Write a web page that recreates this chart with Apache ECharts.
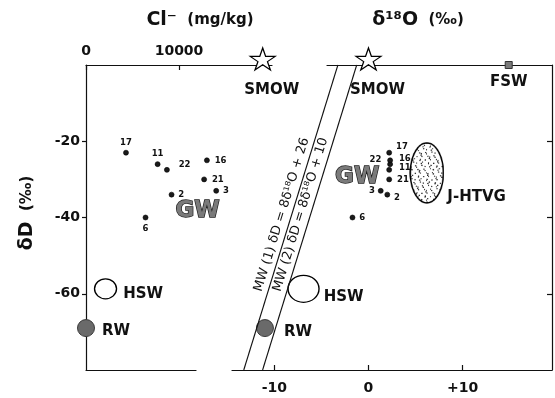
<!DOCTYPE html>
<html>
<head>
<meta charset="utf-8">
<script src="https://cdn.jsdelivr.net/npm/echarts@6/dist/echarts.min.js"></script>
<style>
  html, body { margin: 0; padding: 0; background: #fff; }
  #chart { width: 555px; height: 398px; }
</style>
</head>
<body>
<div id="chart"></div>
<script>
// Groundwater samples: id, chloride (mg/kg), δD (‰), δ18O (‰)
const sampleIds = ['17', '11', '22', '16', '21', '3', '2', '6'];
const chloride  = [4300, 7700, 8700, 13000, 12700, 14000, 9200, 6400];
const deltaD    = [-23, -26, -27.5, -25, -30, -33, -34, -40];
const delta18O  = [2.2, 2.3, 2.2, 2.3, 2.2, 1.3, 2.0, -1.7];

// End members: sea water (SMOW), hot spring water (HSW), river water (RW)
const endNames    = ['SMOW', 'HSW', 'RW'];
const endChloride = [19000, 2100, 0];
const endDelta18O = [0, -6.9, -11];
const endDeltaD   = [0, -58.7, -69];

// Fossil sea water and the J-HTVG field (δ18O, δD)
const fswPoint   = [14.9, 0];
const jhtvgPoint = [6.2, -28.3];

// Meteoric water lines, end points at δD = -80 and δD = 0
const mw1Ends = [[-13.25, -80], [-3.25, 0]];   // δD = 8δ18O + 26
const mw2Ends = [[-11.25, -80], [-1.25, 0]];   // δD = 8δ18O + 10

// Axis ticks
const clTicks = [0, 10000];
const oTicks  = [-10, 0, 10];
const dTicks  = [-20, -40, -60];

const FONT = 'DejaVu Sans';
const INK = '#111';
const starPath = 'path://M50,0 L61.8,35.4 L100,35.4 L69.1,57.3 L80.9,92.7 L50,70.8 L19.1,92.7 L30.9,57.3 L0,35.4 L38.2,35.4 Z';

// stippled ellipse image used as the J-HTVG symbol
function stippledEllipse(w, h) {
  const s = 3;
  const cv = document.createElement('canvas');
  cv.width = w * s; cv.height = h * s;
  const c = cv.getContext('2d');
  const cx = cv.width / 2, cy = cv.height / 2;
  const rx = cv.width / 2 - 3, ry = cv.height / 2 - 3;
  c.beginPath();
  c.ellipse(cx, cy, rx, ry, 0, 0, Math.PI * 2);
  c.fillStyle = '#fff';
  c.fill();
  c.save();
  c.clip();
  c.fillStyle = '#1a1a1a';
  const jitter = [0, 4, -2, 5, -4, 1, 3, -4, 4, -1, 2, -5, 1];
  const step = 10;
  let k = 0;
  for (let y = 3, row = 0; y < cv.height; y += step, row++) {
    for (let x = (row % 2) * step / 2 + 2; x < cv.width; x += step) {
      const dx = jitter[k % jitter.length];
      const dy = jitter[(k + 5) % jitter.length] * 0.6;
      k++;
      c.beginPath();
      c.arc(x + dx, y + dy, 2.0, 0, Math.PI * 2);
      c.fill();
    }
  }
  c.restore();
  c.beginPath();
  c.ellipse(cx, cy, rx, ry, 0, 0, Math.PI * 2);
  c.lineWidth = 4.5;
  c.strokeStyle = '#000';
  c.stroke();
  return 'image://' + cv.toDataURL();
}

const axisLine = { show: true, onZero: false, lineStyle: { color: INK, width: 1.2 } };
const tickLine = { color: INK, width: 1.2 };
const tickFont = { color: INK, fontFamily: FONT, fontWeight: 'bold', fontSize: 14 };
const bare = { show: false };

// label placement of sample ids in each panel
const leftIdLabel = {
  '17': { position: 'top', distance: 3 },
  '11': { position: 'top', distance: 3 },
  '22': { position: 'right', distance: 9, offset: [0, -5] },
  '16': { position: 'right', distance: 5 },
  '21': { position: 'right', distance: 5 },
  '3':  { position: 'right', distance: 4 },
  '2':  { position: 'right', distance: 4 },
  '6':  { position: 'bottom', distance: 4 }
};
const rightIdLabel = {
  '17': { position: 'right', distance: 4, offset: [0, -6] },
  '16': { position: 'right', distance: 6, offset: [0, -2] },
  '11': { position: 'right', distance: 6, offset: [0, 4] },
  '22': { position: 'left', distance: 5, offset: [0, -10] },
  '21': { position: 'right', distance: 5 },
  '3':  { position: 'left', distance: 3 },
  '2':  { position: 'right', distance: 4, offset: [0, 3] },
  '6':  { position: 'right', distance: 4 }
};

const idLabelStyle = { show: true, color: INK, fontFamily: FONT, fontWeight: 'bold', fontSize: 8.5 };
const bigLabel = { show: true, color: INK, fontFamily: FONT, fontWeight: 'bold', fontSize: 15 };

function samplePoints(xs, placement) {
  return sampleIds.map(function (id, i) {
    return {
      value: [xs[i], deltaD[i]],
      label: Object.assign({}, idLabelStyle, placement[id], { formatter: id })
    };
  });
}

// end-member symbols per panel
const endLook = {
  left: {
    SMOW: { symbol: starPath, symbolSize: [25, 22], symbolOffset: [0, -6],
            itemStyle: { color: '#fff', borderColor: '#000', borderWidth: 1.2, opacity: 1 },
            label: { position: 'bottom', distance: 12, offset: [9, 0] } },
    HSW:  { symbol: 'circle', symbolSize: [22, 20],
            itemStyle: { color: '#fff', borderColor: '#000', borderWidth: 1.3, opacity: 1 },
            label: { position: 'right', distance: 6, offset: [0, 5] } },
    RW:   { symbol: 'circle', symbolSize: 17,
            itemStyle: { color: '#6a6a6a', borderColor: '#3a3a3a', borderWidth: 1, opacity: 1 },
            label: { position: 'right', distance: 7, offset: [0, 3] } }
  },
  right: {
    SMOW: { symbol: starPath, symbolSize: [25, 22], symbolOffset: [0, -6],
            itemStyle: { color: '#fff', borderColor: '#000', borderWidth: 1.2, opacity: 1 },
            label: { position: 'bottom', distance: 12, offset: [9, 0] } },
    HSW:  { symbol: 'circle', symbolSize: [31, 27],
            itemStyle: { color: '#fff', borderColor: '#000', borderWidth: 1.3, opacity: 1 },
            label: { position: 'right', distance: 4, offset: [0, 8] } },
    RW:   { symbol: 'circle', symbolSize: 17,
            itemStyle: { color: '#6a6a6a', borderColor: '#3a3a3a', borderWidth: 1, opacity: 1 },
            label: { position: 'right', distance: 10, offset: [0, 4] } }
  }
};

function endPoints(xs, side) {
  return endNames.map(function (name, i) {
    const look = endLook[side][name];
    return {
      value: [xs[i], endDeltaD[i]],
      symbol: look.symbol,
      symbolSize: look.symbolSize,
      symbolOffset: look.symbolOffset || [0, 0],
      itemStyle: look.itemStyle,
      label: Object.assign({}, bigLabel, look.label, { formatter: name })
    };
  });
}

const gwLabel = {
  show: true, position: 'inside', formatter: 'GW',
  fontFamily: FONT, fontWeight: 'bold', fontSize: 23,
  color: '#7a7a7a', textBorderColor: '#1a1a1a', textBorderWidth: 1.4
};

const mwLabel = {
  show: true, position: 'insideMiddleTop', distance: 3,
  color: INK, fontFamily: FONT, fontSize: 13
};

const dotStyle = { color: '#1a1a1a', borderColor: '#000', borderWidth: 0.6, opacity: 1 };

const option = {
  animation: false,
  backgroundColor: '#fff',
  grid: [
    { left: 86, top: 65, width: 186, height: 305, outerBoundsMode: 'none' },
    { left: 232, top: 65, width: 320, height: 305, outerBoundsMode: 'none' },
    { left: 327, top: 65, width: 225, height: 305, outerBoundsMode: 'none' },
    { left: 86, top: 65, width: 110, height: 305, outerBoundsMode: 'none' }
  ],
  xAxis: [
    { gridIndex: 0, type: 'value', position: 'top', min: 0, max: 20000,
      axisLine: axisLine, splitLine: bare,
      axisTick: { show: true, inside: true, length: 5, customValues: clTicks, lineStyle: tickLine },
      axisLabel: Object.assign({ customValues: clTicks, margin: 7,
        formatter: function (v) { return v === 20000 ? '' : String(v); } }, tickFont) },
    { gridIndex: 1, type: 'value', position: 'bottom', min: -14.5, max: 19.5,
      axisLine: axisLine, splitLine: bare,
      axisTick: { show: true, inside: true, length: 5, customValues: oTicks, lineStyle: tickLine },
      axisLabel: Object.assign({ customValues: oTicks, margin: 11,
        formatter: function (v) { return v > 0 ? '+' + v : String(v); } }, tickFont) },
    { gridIndex: 2, type: 'value', position: 'top', min: 0, max: 1,
      axisLine: axisLine, axisTick: bare, axisLabel: bare, splitLine: bare },
    { gridIndex: 3, type: 'value', position: 'bottom', min: 0, max: 1,
      axisLine: axisLine, axisTick: bare, axisLabel: bare, splitLine: bare }
  ],
  yAxis: [
    { gridIndex: 0, type: 'value', position: 'left', min: -80, max: 0,
      axisLine: axisLine, splitLine: bare,
      axisTick: { show: true, inside: false, length: 4, customValues: dTicks, lineStyle: tickLine },
      axisLabel: Object.assign({ customValues: dTicks, margin: 6,
        formatter: function (v) { return (v === 0 || v === -80) ? '' : String(v); } }, tickFont) },
    { gridIndex: 1, type: 'value', position: 'right', min: -80, max: 0,
      axisLine: axisLine, splitLine: bare,
      axisTick: { show: true, inside: true, length: 5, customValues: dTicks, lineStyle: tickLine },
      axisLabel: bare },
    { gridIndex: 2, type: 'value', min: -80, max: 0, show: false },
    { gridIndex: 3, type: 'value', min: -80, max: 0, show: false }
  ],
  series: [
    // meteoric water lines
    { type: 'scatter', xAxisIndex: 1, yAxisIndex: 1, data: [], silent: true,
      markLine: {
        silent: true, symbol: ['none', 'none'], animation: false,
        lineStyle: { color: INK, width: 1.1, type: 'solid', opacity: 1 },
        data: [
          [ { coord: mw1Ends[0], label: Object.assign({}, mwLabel, { formatter: 'MW (1) δD = 8δ¹⁸O + 26' }) },
            { coord: mw1Ends[1] } ],
          [ { coord: mw2Ends[0], label: Object.assign({}, mwLabel, { formatter: 'MW (2) δD = 8δ¹⁸O + 10' }) },
            { coord: mw2Ends[1] } ]
        ]
      } },
    // left panel: Cl vs δD
    { type: 'scatter', xAxisIndex: 0, yAxisIndex: 0, clip: false, z: 3,
      data: endPoints(endChloride, 'left') },
    { type: 'scatter', xAxisIndex: 0, yAxisIndex: 0, clip: false, z: 4,
      symbol: 'circle', symbolSize: 5, itemStyle: dotStyle,
      data: samplePoints(chloride, leftIdLabel) },
    { type: 'scatter', xAxisIndex: 0, yAxisIndex: 0, symbolSize: 1,
      itemStyle: { color: 'rgba(0,0,0,0)', opacity: 1 }, label: gwLabel,
      data: [[12000, -38.3]] },
    // right panel: δ18O vs δD
    { type: 'scatter', xAxisIndex: 1, yAxisIndex: 1, clip: false, z: 2,
      symbol: stippledEllipse(35, 62), symbolSize: [35, 62],
      itemStyle: { opacity: 1 },
      label: Object.assign({}, bigLabel, { position: 'right', distance: 3, offset: [0, 24], formatter: 'J-HTVG' }),
      data: [jhtvgPoint] },
    { type: 'scatter', xAxisIndex: 1, yAxisIndex: 1, clip: false, z: 3,
      data: endPoints(endDelta18O, 'right') },
    { type: 'scatter', xAxisIndex: 1, yAxisIndex: 1, clip: false, z: 3,
      symbol: 'rect', symbolSize: 7,
      itemStyle: { color: '#7a7a7a', borderColor: '#333', borderWidth: 1, opacity: 1 },
      label: Object.assign({}, bigLabel, { position: 'bottom', distance: 6, formatter: 'FSW' }),
      data: [fswPoint] },
    { type: 'scatter', xAxisIndex: 1, yAxisIndex: 1, clip: false, z: 4,
      symbol: 'circle', symbolSize: 5, itemStyle: dotStyle,
      data: samplePoints(delta18O, rightIdLabel) },
    { type: 'scatter', xAxisIndex: 1, yAxisIndex: 1, symbolSize: 1,
      itemStyle: { color: 'rgba(0,0,0,0)', opacity: 1 }, label: gwLabel,
      data: [[-1.2, -29.4]] }
  ],
  graphic: [
    { type: 'text', x: 200, y: 20, silent: true,
      style: { text: '{a|Cl⁻}{b|  (mg/kg)}', align: 'center', verticalAlign: 'middle',
               textAlign: 'center', textVerticalAlign: 'middle',
               rich: { a: { fontFamily: FONT, fontWeight: 'bold', fontSize: 19, fill: INK, color: INK },
                       b: { fontFamily: FONT, fontWeight: 'bold', fontSize: 15, fill: INK, color: INK } } } },
    { type: 'text', x: 418, y: 20, silent: true,
      style: { text: '{a|δ¹⁸O}{b|  (‰)}', align: 'center', verticalAlign: 'middle',
               textAlign: 'center', textVerticalAlign: 'middle',
               rich: { a: { fontFamily: FONT, fontWeight: 'bold', fontSize: 19, fill: INK, color: INK },
                       b: { fontFamily: FONT, fontWeight: 'bold', fontSize: 15, fill: INK, color: INK } } } },
    { type: 'text', x: 27, y: 213, rotation: Math.PI / 2, silent: true,
      style: { text: '{a|δD}{b|  (‰)}', align: 'center', verticalAlign: 'middle',
               textAlign: 'center', textVerticalAlign: 'middle',
               rich: { a: { fontFamily: FONT, fontWeight: 'bold', fontSize: 19, fill: INK, color: INK },
                       b: { fontFamily: FONT, fontWeight: 'bold', fontSize: 15, fill: INK, color: INK } } } }
  ]
};

const chart = echarts.init(document.getElementById('chart'), null, { renderer: 'canvas' });
chart.setOption(option);
</script>
</body>
</html>
